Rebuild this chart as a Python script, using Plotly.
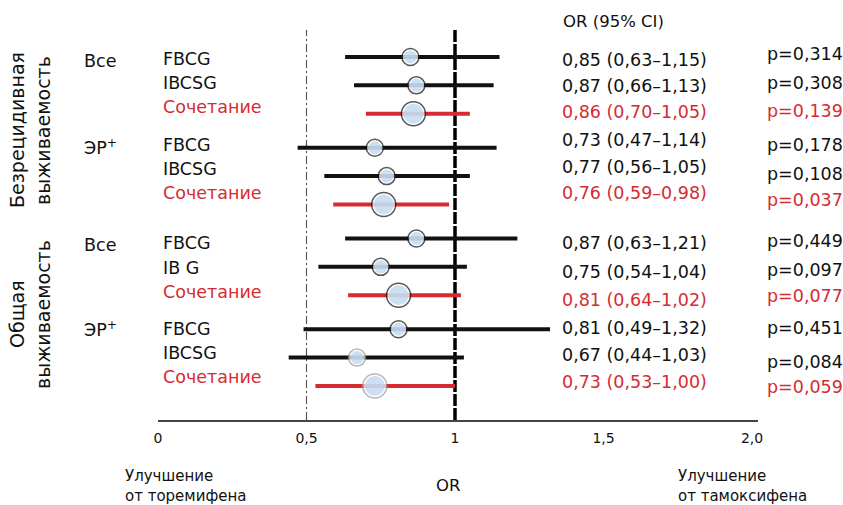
import plotly.graph_objects as go

# ---------------- data ----------------
outcome_lines = [["Безрецидивная", "выживаемость"], ["Общая", "выживаемость"]]
subgroups = ["Все", "ЭР<sup>+</sup>", "Все", "ЭР<sup>+</sup>"]
study_labels = ["FBCG", "IBCSG", "Сочетание",
                "FBCG", "IBCSG", "Сочетание",
                "FBCG", "IB G", "Сочетание",
                "FBCG", "IBCSG", "Сочетание"]
or_vals = [0.85, 0.87, 0.86, 0.73, 0.77, 0.76, 0.87, 0.75, 0.81, 0.81, 0.67, 0.73]
ci_lo = [0.63, 0.66, 0.70, 0.47, 0.56, 0.59, 0.63, 0.54, 0.64, 0.49, 0.44, 0.53]
ci_hi = [1.15, 1.13, 1.05, 1.14, 1.05, 0.98, 1.21, 1.04, 1.02, 1.32, 1.03, 1.00]
p_vals = ["0,314", "0,308", "0,139", "0,178", "0,108", "0,037",
          "0,449", "0,097", "0,077", "0,451", "0,084", "0,059"]
tick_vals = [0, 0.5, 1, 1.5, 2.0]
tick_text = ["0", "0,5", "1", "1,5", "2,0"]

# ---------------- layout helpers ----------------
W, H = 843, 505
PL, PR, PT, PB = 158, 758, 30, 420          # plot area in pixels
FONT = "DejaVu Sans, Liberation Sans, Arial, sans-serif"
BLACK = "#111111"
RED = "#d62b31"
FILL = "#b7d1ee"

def xp(px):
    return (px - PL) / (PR - PL)

def yp(py):
    return (PB - py) / (PB - PT)

def fmt(v):
    return f"{v:.2f}".replace(".", ",")

n = len(or_vals)
pos = [i + 0.2 * (i // 3) for i in range(n)]
is_comb = [lab == "Сочетание" for lab in study_labels]
unit = 28.36
y_top = -(57 - PT) / unit
y_bot = (PB - 57) / unit

fig = go.Figure()

# CI lines
for comb, col in [(False, BLACK), (True, RED)]:
    xs, ys = [], []
    for i in range(n):
        if is_comb[i] == comb:
            xs += [ci_lo[i], ci_hi[i], None]
            ys += [pos[i], pos[i], None]
    fig.add_trace(go.Scatter(x=xs, y=ys, mode="lines",
                             line=dict(color=col, width=4),
                             hoverinfo="skip", showlegend=False))

sizes = [24 if c else 17 for c in is_comb]
outline = [BLACK] * 10 + ["#9a9a9a", "#9a9a9a"]
# outer ring
fig.add_trace(go.Scatter(x=or_vals, y=pos, mode="markers",
                         marker=dict(size=sizes, color="white",
                                     line=dict(color=outline, width=1.5)),
                         hoverinfo="skip", showlegend=False))
# inner fill
fig.add_trace(go.Scatter(x=or_vals, y=pos, mode="markers",
                         marker=dict(size=[s - 4 for s in sizes], color=FILL,
                                     line=dict(width=0)),
                         hoverinfo="skip", showlegend=False))

shapes = [
    dict(type="line", xref="x", yref="paper", x0=0.5, x1=0.5, y0=0, y1=1,
         line=dict(color="#555555", width=1.2, dash="8px,3px,2px,3px"), layer="below"),
    dict(type="line", xref="x", yref="paper", x0=1, x1=1, y0=0, y1=1,
         line=dict(color="#000000", width=3.5, dash="12px,2px"), layer="below"),
]

ann = []
def add_text(text, px, py, color=BLACK, size=17.5, xanchor="left", angle=0):
    ann.append(dict(text=text, xref="paper", yref="paper", x=xp(px), y=yp(py),
                    xanchor=xanchor, yanchor="middle", showarrow=False, align="left",
                    borderpad=0, textangle=angle,
                    font=dict(family=FONT, size=size, color=color)))

label_y = [59, 83, 107, 145, 169, 193, 243, 268, 292, 329, 353, 377]
or_y = [60, 86, 112, 140, 167, 193, 243, 272, 300, 328, 355, 382]
p_y = [54, 83, 111, 145, 174, 200, 241, 270, 296, 328, 362, 387]
for i in range(n):
    col = RED if is_comb[i] else BLACK
    add_text(study_labels[i], 162, label_y[i], col)
    add_text(f"{fmt(or_vals[i])} ({fmt(ci_lo[i])}–{fmt(ci_hi[i])})", 561, or_y[i], col)
    add_text(f"p={p_vals[i]}", 766, p_y[i], col)

for txt, py in zip(subgroups, [61, 147, 245, 329]):
    add_text(txt, 83, py)

for lines, py in zip(outcome_lines, [130, 314]):
    add_text(lines[0], 17, py, size=19, angle=-90, xanchor="center")
    add_text(lines[1], 43, py, size=19, angle=-90, xanchor="center")

add_text("OR (95% CI)", 562, 21, size=16.5)
add_text("Улучшение", 124, 476, size=15)
add_text("от торемифена", 124, 495.5, size=15)
add_text("OR", 448, 485, size=16.5, xanchor="center")
add_text("Улучшение", 677, 476, size=15)
add_text("от тамоксифена", 677, 495.5, size=15)

fig.update_layout(
    width=W, height=H,
    margin=dict(l=PL, r=W - PR, t=PT, b=H - PB, pad=0),
    paper_bgcolor="white", plot_bgcolor="white",
    shapes=shapes, annotations=ann,
    xaxis=dict(range=[0, (PR - PL) / 297], tickvals=tick_vals, ticktext=tick_text,
               showgrid=False, zeroline=False, showline=True,
               linecolor="#444444", linewidth=2, ticks="", ticklabelstandoff=4,
               tickfont=dict(family=FONT, size=14, color=BLACK), fixedrange=True),
    yaxis=dict(range=[y_bot, y_top], visible=False, fixedrange=True),
    font=dict(family=FONT),
)

fig.write_html("out.html")
